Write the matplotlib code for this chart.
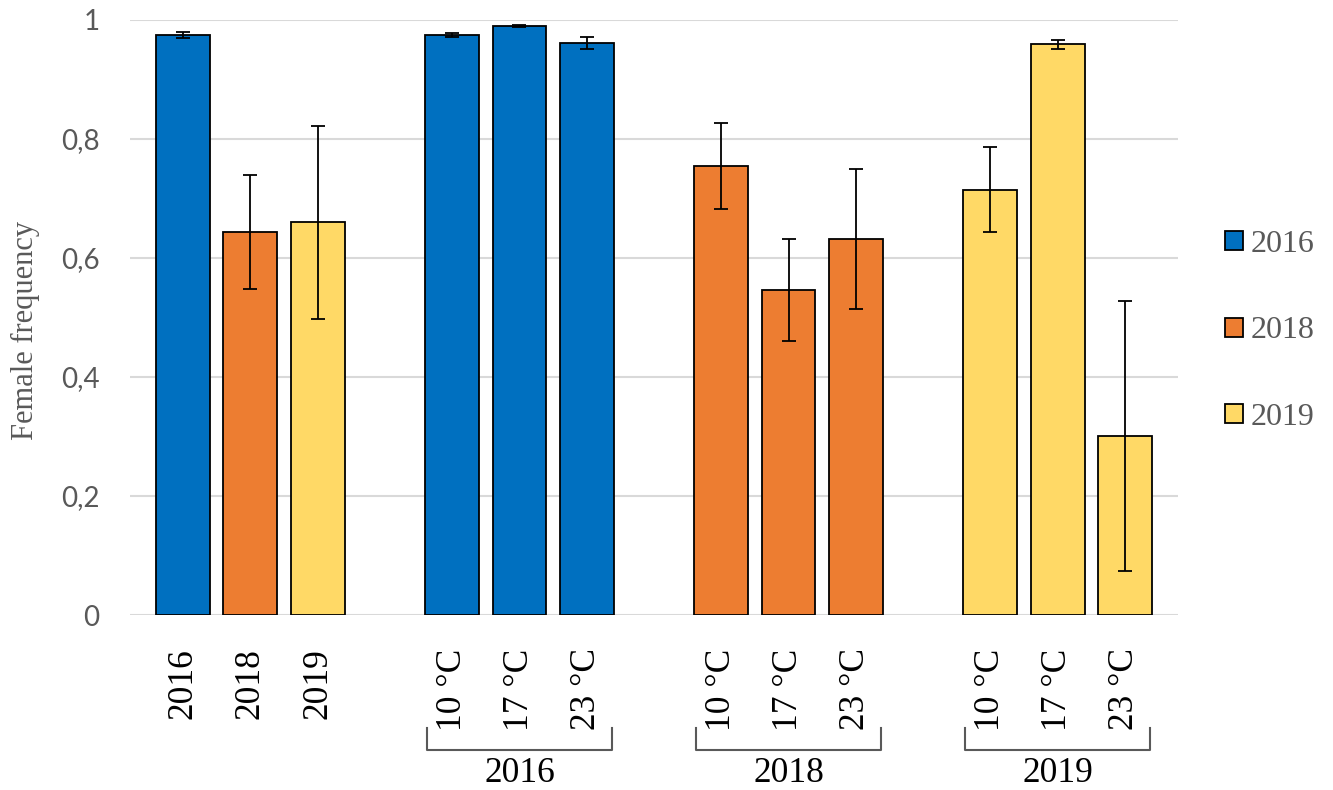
import matplotlib.pyplot as plt
from matplotlib.patches import Patch
import numpy as np

# overall bars, then per-temperature bars for each year
tickLabels = ["2016", "2018", "2019",
              "10 °C", "17 °C", "23 °C",
              "10 °C", "17 °C", "23 °C",
              "10 °C", "17 °C", "23 °C"]
barYears = ["2016", "2018", "2019",
            "2016", "2016", "2016",
            "2018", "2018", "2018",
            "2019", "2019", "2019"]
values = [0.975, 0.644, 0.660,
          0.975, 0.990, 0.962,
          0.755, 0.546, 0.632,
          0.715, 0.959, 0.301]
errors = [0.005, 0.096, 0.162,
          0.003, 0.002, 0.010,
          0.072, 0.086, 0.118,
          0.071, 0.007, 0.227]
groupNames = ["2016", "2018", "2019"]
yearColors = {"2016": "#0070C0", "2018": "#ED7D31", "2019": "#FFD966"}

serif = "Liberation Serif"
gray = "#595959"

fig = plt.figure(figsize=(13.33, 7.9), dpi=100)
ax = fig.add_axes([130 / 1333, 1 - 615 / 790, (1178 - 130) / 1333, 595 / 790])

# 4 blocks of 3 bars, one empty slot between blocks
x = np.array([b * 4 + i for b in range(4) for i in range(3)], dtype=float)
colors = [yearColors[y] for y in barYears]

ax.bar(x, values, width=0.8, color=colors, edgecolor="black", linewidth=1.3, zorder=2)
ax.errorbar(x, values, yerr=errors, fmt="none", ecolor="black", elinewidth=1.3,
            capsize=5, capthick=1.3, zorder=3)

ax.set_xlim(-0.79, 14.79)
ax.set_ylim(0, 1)
ax.set_yticks([0, 0.2, 0.4, 0.6, 0.8, 1])
ax.set_yticklabels(["0", "0,2", "0,4", "0,6", "0,8", "1"])
ax.yaxis.grid(True, color="#d9d9d9", linewidth=1.5, zorder=0)
ax.set_axisbelow(True)
for s in ax.spines.values():
    s.set_visible(False)
ax.tick_params(axis="y", length=0, pad=22, labelsize=20, labelcolor=gray)
for t in ax.get_yticklabels():
    t.set_family("Lato")

ax.set_xticks(x)
ax.set_xticklabels(tickLabels, rotation=90, family=serif, fontsize=25.5, color="black", va="top")
ax.tick_params(axis="x", length=0, pad=24)

# brackets under temperature groups
trans = ax.get_xaxis_transform()
for g, name in enumerate(groupNames):
    c = x[3 + g * 3 + 1]
    l, r = c - 1.37, c + 1.37
    ax.plot([l, l, r, r], [-0.19, -0.227, -0.227, -0.19], color=gray, linewidth=1.5,
            transform=trans, clip_on=False)
    ax.text(c, -0.267, name, transform=trans, ha="center", va="center",
            family=serif, fontsize=25.5, color="black")

fig.text(25 / 1333, 1 - 330 / 790, "Female frequency", rotation=90, ha="center",
         va="center", family=serif, fontsize=22, color=gray)

handles = [Patch(facecolor=yearColors[y], edgecolor="black", linewidth=1.3) for y in groupNames]
fig.legend(handles, groupNames, loc="center left", bbox_to_anchor=(1225 / 1333, 1 - 331 / 790),
           frameon=False, borderpad=0, borderaxespad=0, handlelength=0.55, handleheight=0.55,
           handletextpad=0.25, labelspacing=1.8, prop={"family": serif, "size": 23},
           labelcolor=gray)

fig.savefig("out.png", dpi=100)
